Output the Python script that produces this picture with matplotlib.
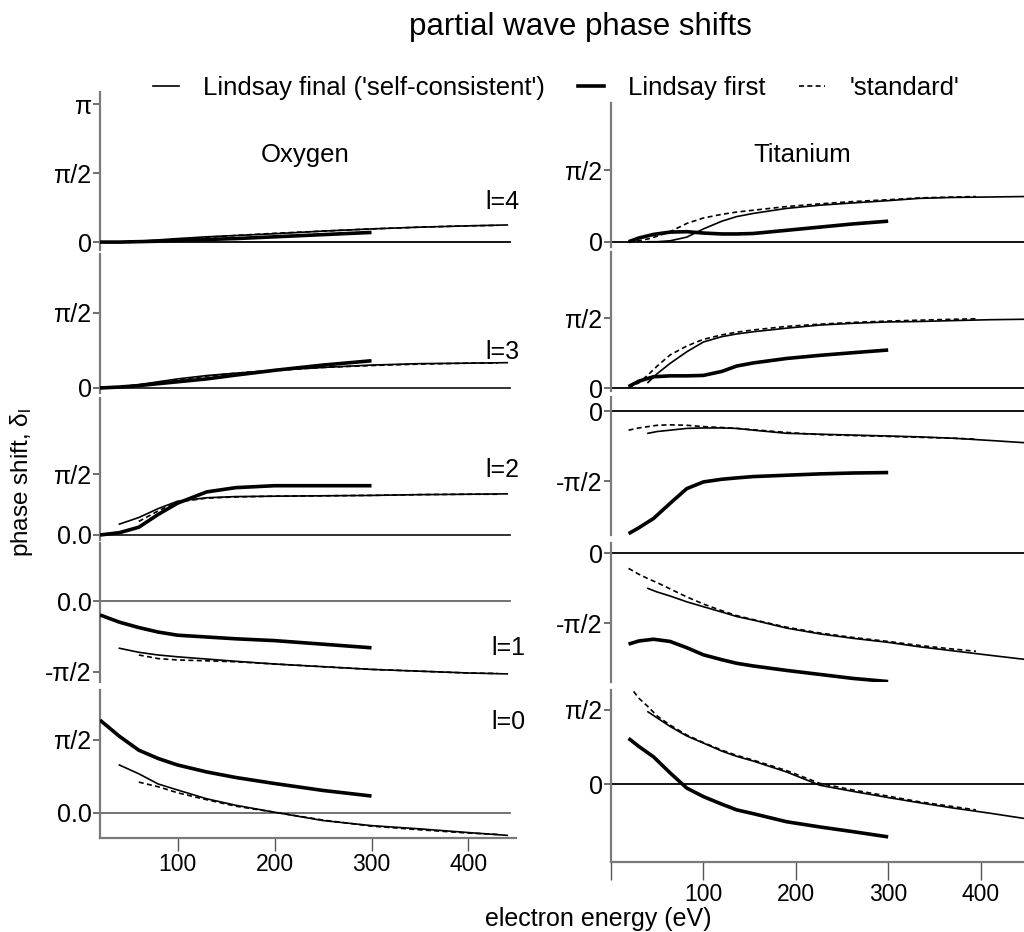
import numpy as np
import matplotlib
matplotlib.use("Agg")
import matplotlib.pyplot as plt
from matplotlib.lines import Line2D

plt.rcParams['font.family'] = ['Liberation Sans', 'DejaVu Sans']
plt.rcParams['mathtext.fontset'] = 'custom'
plt.rcParams['mathtext.rm'] = 'Liberation Sans'
plt.rcParams['mathtext.it'] = 'Liberation Sans:italic'

PI = np.pi
ls = [4, 3, 2, 1, 0]

# ---- Oxygen (phase shift in rad) ----
o_first_e = [20, 40, 60, 80, 100, 130, 160, 200, 250, 300]
o_first = {
    4: [0.0, 0.0, 0.01, 0.02, 0.04, 0.06, 0.08, 0.12, 0.17, 0.22],
    3: [0.0, 0.02, 0.05, 0.09, 0.13, 0.19, 0.27, 0.37, 0.48, 0.57],
    2: [0.0, 0.06, 0.20, 0.53, 0.82, 1.11, 1.22, 1.27, 1.27, 1.27],
    1: [-0.31, -0.47, -0.59, -0.69, -0.76, -0.80, -0.84, -0.88, -0.96, -1.04],
    0: [2.00, 1.65, 1.35, 1.17, 1.03, 0.88, 0.76, 0.63, 0.48, 0.36],
}
o_final_e = [40, 60, 80, 100, 130, 160, 200, 250, 300, 350, 400, 440]
o_final = {
    4: [0.0, 0.02, 0.05, 0.08, 0.12, 0.15, 0.19, 0.25, 0.30, 0.34, 0.37, 0.39],
    3: [0.02, 0.07, 0.13, 0.19, 0.26, 0.31, 0.37, 0.43, 0.48, 0.51, 0.52, 0.53],
    2: [0.28, 0.45, 0.68, 0.87, 0.96, 0.99, 1.00, 1.01, 1.02, 1.04, 1.05, 1.06],
    1: [-1.05, -1.14, -1.20, -1.24, -1.29, -1.34, -1.40, -1.46, -1.52, -1.56, -1.60, -1.62],
    0: [1.03, 0.84, 0.62, 0.49, 0.30, 0.16, 0.01, -0.17, -0.28, -0.35, -0.43, -0.49],
}
o_std_e = [60, 80, 100, 130, 160, 200, 250, 300, 350, 400, 430]
o_std = {
    4: [0.01, 0.03, 0.06, 0.11, 0.15, 0.20, 0.25, 0.30, 0.34, 0.37, 0.38],
    3: [0.06, 0.11, 0.17, 0.25, 0.31, 0.37, 0.43, 0.47, 0.50, 0.52, 0.52],
    2: [0.35, 0.62, 0.85, 0.95, 0.98, 1.00, 1.01, 1.02, 1.04, 1.05, 1.05],
    1: [-1.20, -1.28, -1.31, -1.33, -1.35, -1.40, -1.46, -1.52, -1.56, -1.60, -1.61],
    0: [0.66, 0.56, 0.43, 0.28, 0.14, 0.01, -0.16, -0.29, -0.37, -0.44, -0.47],
}

# ---- Titanium ----
t_first_e = [19, 30, 46, 64, 82, 100, 120, 136, 154, 190, 226, 262, 300]
t_first = {
    4: [0.0, 0.08, 0.16, 0.21, 0.22, 0.19, 0.17, 0.17, 0.18, 0.25, 0.32, 0.39, 0.45],
    3: [0.04, 0.16, 0.26, 0.28, 0.28, 0.29, 0.38, 0.50, 0.57, 0.67, 0.74, 0.80, 0.86],
    2: [-2.75, -2.62, -2.41, -2.07, -1.74, -1.59, -1.53, -1.50, -1.47, -1.44, -1.41, -1.39, -1.38],
    1: [-2.04, -1.97, -1.93, -1.98, -2.12, -2.28, -2.39, -2.47, -2.53, -2.63, -2.72, -2.81, -2.88],
    0: [0.97, 0.80, 0.58, 0.24, -0.08, -0.26, -0.42, -0.54, -0.62, -0.79, -0.90, -1.00, -1.11],
}
t_final_e = [40, 50, 64, 82, 100, 120, 136, 154, 190, 226, 262, 300, 334, 370, 410, 447]
t_final = {
    4: [0.0, 0.0, 0.02, 0.10, 0.28, 0.45, 0.55, 0.62, 0.73, 0.80, 0.85, 0.90, 0.95, 0.97, 0.98, 0.99],
    3: [0.13, 0.33, 0.56, 0.82, 1.04, 1.16, 1.22, 1.27, 1.35, 1.42, 1.46, 1.49, 1.50, 1.52, 1.54, 1.55],
    2: [-0.50, -0.46, -0.43, -0.39, -0.38, -0.38, -0.39, -0.43, -0.50, -0.52, -0.54, -0.56, -0.58, -0.61, -0.66, -0.71],
    1: [-0.79, -0.87, -0.96, -1.09, -1.20, -1.32, -1.42, -1.50, -1.68, -1.81, -1.91, -2.00, -2.10, -2.19, -2.29, -2.38],
    0: [1.53, 1.40, 1.22, 1.02, 0.87, 0.70, 0.59, 0.49, 0.26, -0.02, -0.15, -0.28, -0.39, -0.50, -0.61, -0.72],
}
t_std_e = [19, 30, 40, 50, 64, 82, 100, 120, 136, 154, 190, 226, 262, 300, 334, 370, 395]
t_std = {
    4: [0.0, 0.02, 0.06, 0.12, 0.22, 0.40, 0.52, 0.60, 0.65, 0.69, 0.77, 0.83, 0.88, 0.92, 0.96, 0.98, 0.99],
    3: [0.02, 0.12, 0.30, 0.50, 0.75, 0.95, 1.10, 1.20, 1.26, 1.31, 1.39, 1.44, 1.48, 1.51, 1.53, 1.55, 1.56],
    2: [-0.43, -0.38, -0.35, -0.32, -0.31, -0.32, -0.35, -0.37, -0.39, -0.42, -0.48, -0.53, -0.55, -0.57, -0.59, -0.61, -0.63],
    1: [-0.34, -0.47, -0.57, -0.66, -0.80, -0.98, -1.14, -1.29, -1.40, -1.49, -1.66, -1.79, -1.89, -1.98, -2.07, -2.15, -2.20],
    0: [2.10, 1.82, 1.64, 1.44, 1.25, 1.04, 0.88, 0.72, 0.61, 0.51, 0.29, 0.02, -0.12, -0.25, -0.37, -0.47, -0.54],
}

x_ticks = [100, 200, 300, 400]

# y ticks per panel: (values, labels)
o_yticks = {
    4: ([0, PI / 2, PI], ['0', 'π/2', 'π']),
    3: ([0, PI / 2], ['0', 'π/2']),
    2: ([0, PI / 2], ['0.0', 'π/2']),
    1: ([-PI / 2, 0], ['-π/2', '0.0']),
    0: ([0, PI / 2], ['0.0', 'π/2']),
}
t_yticks = {
    4: ([0, PI / 2], ['0', 'π/2']),
    3: ([0, PI / 2], ['0', 'π/2']),
    2: ([-PI / 2, 0], ['-π/2', '0']),
    1: ([-PI / 2, 0], ['-π/2', '0']),
    0: ([0, PI / 2], ['0', 'π/2']),
}

# layout in pixels
W, H = 1024, 932
o_boxes = {4: (92, 250), 3: (254, 393), 2: (398, 540), 1: (543, 682), 0: (690, 838)}
t_boxes = {4: (103, 247), 3: (252, 391), 2: (397, 535), 1: (543, 682), 0: (690, 862)}
o_ylim = {4: (-0.18, 3.415), 3: (-0.105, 2.806), 2: (-0.129, 3.53), 1: (-1.80, 1.289), 0: (-0.547, 2.65)}
t_ylim = {4: (-0.116, 3.04), 3: (-0.06, 3.06), 2: (-2.78, 0.314), 1: (-2.89, 0.23), 0: (-1.64, 1.99)}

fig = plt.figure(figsize=(W / 100, H / 100), dpi=100)


def px_axes(x0, x1, y0, y1):
    return fig.add_axes([x0 / W, 1 - y1 / H, (x1 - x0) / W, (y1 - y0) / H])


def draw_column(x0, x1, xlim, boxes, ylims, yticks, first_e, first, final_e, final, std_e, std,
                zero_colors, zero_end, xtick_len, right_col):
    for l in ls:
        y0, y1 = boxes[l]
        ax = px_axes(x0, x1, y0, y1)
        ax.set_xlim(*xlim)
        ax.set_ylim(*ylims[l])
        for s in ['top', 'right']:
            ax.spines[s].set_visible(False)
        ax.spines['left'].set_color('#7a7a7a')
        ax.spines['left'].set_linewidth(1.6)
        ax.axhline(0, xmax=zero_end, color=zero_colors[l], lw=1.3, zorder=1)
        ax.plot(first_e, first[l], color='black', lw=2.6, solid_capstyle='butt', zorder=3)
        ax.plot(final_e, final[l], color='black', lw=1.2, zorder=3)
        ax.plot(std_e, std[l], color='black', lw=1.2, dashes=(3, 2), zorder=3)
        vals, labs = yticks[l]
        ax.set_yticks(vals)
        ax.set_yticklabels(labs, fontsize=18)
        ax.tick_params(axis='y', direction='out', length=5, width=1.2, color='#555555', pad=1)
        if l == 0:
            ax.spines['bottom'].set_color('#7a7a7a')
            ax.spines['bottom'].set_linewidth(1.6)
            if right_col:
                ax.set_xticks([0] + x_ticks)
                ax.set_xticklabels([''] + [str(v) for v in x_ticks], fontsize=16.5)
            else:
                ax.set_xticks(x_ticks)
                ax.set_xticklabels([str(v) for v in x_ticks], fontsize=16.5)
            ax.tick_params(axis='x', direction='out', length=xtick_len, width=1.0, color='#555555', pad=2)
        else:
            ax.spines['bottom'].set_visible(False)
            ax.set_xticks([])


draw_column(100, 516, (20, 449), o_boxes, o_ylim, o_yticks, o_first_e, o_first,
            o_final_e, o_final, o_std_e, o_std,
            {4: 'black', 3: '#222222', 2: '#222222', 1: '#666666', 0: '#666666'}, 0.985, 9, False)
draw_column(611, 1024, (0, 447), t_boxes, t_ylim, t_yticks, t_first_e, t_first,
            t_final_e, t_final, t_std_e, t_std,
            {l: 'black' for l in ls}, 1.0, 13, True)

# panel labels
for l, (x, y) in {4: (502, 202), 3: (502, 352), 2: (502, 470), 1: (508, 648), 0: (508, 722)}.items():
    fig.text(x / W, 1 - y / H, 'l=%d' % l, fontsize=18, ha='center', va='center')

fig.text(305 / W, 1 - 155 / H, 'Oxygen', fontsize=18.5, ha='center', va='center')
fig.text(802 / W, 1 - 155 / H, 'Titanium', fontsize=18.5, ha='center', va='center')
fig.text(580 / W, 1 - 27 / H, 'partial wave phase shifts', fontsize=22.5, ha='center', va='center')
fig.text(598 / W, 1 - 919 / H, 'electron energy (eV)', fontsize=18, ha='center', va='center')
fig.text(22 / W, 1 - 482 / H, r'phase shift, $\mathregular{\delta_l}$', fontsize=17.5,
         ha='center', va='center', rotation=90)

handles = [
    Line2D([], [], color='black', lw=1.2),
    Line2D([], [], color='black', lw=2.6),
    Line2D([], [], color='black', lw=1.2, dashes=(3, 2)),
]
labels = ["Lindsay final ('self-consistent')", 'Lindsay first', "'standard'"]
fig.legend(handles, labels, loc='center', bbox_to_anchor=(556 / W, 1 - 88 / H), ncol=3,
           frameon=False, fontsize=18.5, handlelength=1.0, handletextpad=0.95, columnspacing=1.3)

fig.savefig('out.png', dpi=100)
